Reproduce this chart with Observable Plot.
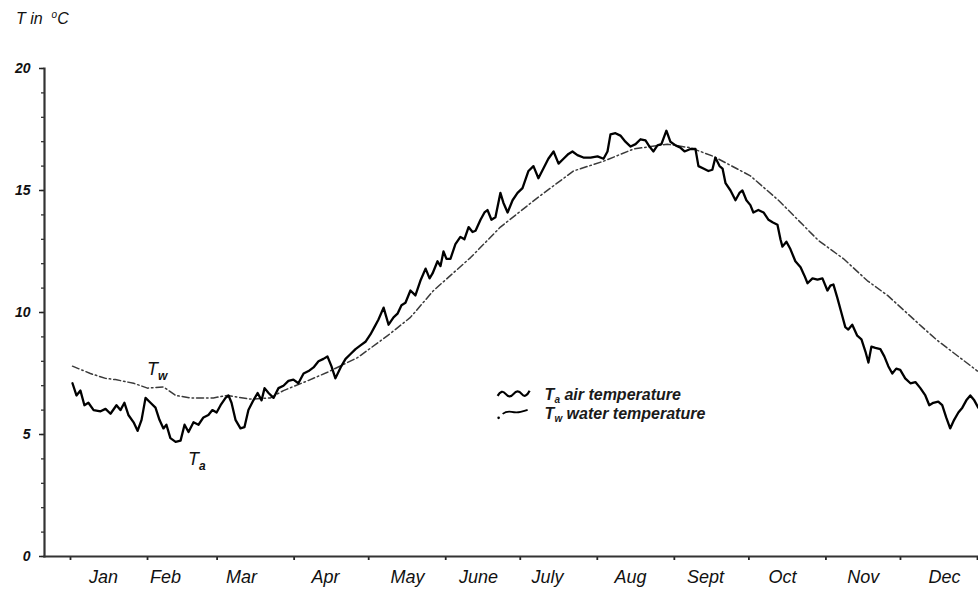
<!DOCTYPE html>
<html>
<head>
<meta charset="utf-8">
<script src="https://cdn.jsdelivr.net/npm/d3@7"></script>
<script src="https://cdn.jsdelivr.net/npm/@observablehq/plot@0.6"></script>
<style>
  body { margin: 0; background: #fff; font-family: "Liberation Sans", Arial, sans-serif; }
  #title { height: 35px; line-height: 30px; padding-left: 16px; font-style: italic; font-size: 16px; color: #111; }
  #title sup { font-size: 10px; }
</style>
</head>
<body>
<div id="title">T in &nbsp;<sup>o</sup>C</div>
<div id="chart"></div>
<script>
// ---- data ----
const monthStarts = [0,31,59,90,120,151,181,212,243,273,304,334,365];
const monthLabelDays = [13.3,38.2,68.8,102.6,135.6,164.2,192,225.4,255.5,286.5,319,351.7];
const monthLabels = ["Jan","Feb","Mar","Apr","May","June","July","Aug","Sept","Oct","Nov","Dec"];
const yMajorTicks = [0,5,10,15,20];
const yMinorTicks = d3.range(0, 21);

// air temperature Ta (day of year, °C)
const airDay = [0.8,2.4,4.0,5.6,7.2,9.3,12.1,14.1,16.1,18.5,20.1,21.7,23.3,25.4,27.0,28.6,30.2,32.2,34.2,35.8,37.4,38.6,40.2,42.3,44.3,45.9,47.5,49.5,51.5,53.5,55.5,57.1,58.8,60.4,62.4,63.6,64.8,66.4,68.4,70.0,71.6,73.6,75.3,76.9,78.1,79.7,81.7,83.7,85.7,87.7,89.7,91.7,93.8,95.8,97.8,99.8,101.8,103.4,105.0,106.6,108.7,110.7,112.7,114.7,116.7,118.7,120.7,122.3,123.9,126.0,128.0,130.0,131.6,133.2,134.8,136.8,138.8,140.8,142.9,144.5,145.7,147.7,148.9,150.1,151.3,152.9,154.9,156.9,158.5,160.2,161.8,163.0,165.0,166.6,167.8,169.4,171.0,173.0,174.2,175.9,177.9,179.9,181.9,184.3,186.3,188.3,190.3,192.3,194.4,196.4,198.4,200.4,202.0,204.0,206.4,209.3,212.1,214.5,216.1,217.3,219.3,221.3,223.3,225.4,227.4,229.4,231.4,233.0,234.6,236.2,237.8,239.8,241.4,243.5,245.5,247.1,249.5,251.5,252.7,254.7,256.7,258.3,259.5,261.2,262.4,263.6,265.6,267.6,269.2,270.4,272.0,273.6,274.8,276.8,278.9,280.9,282.5,284.5,285.7,286.5,288.1,289.7,291.7,293.8,295.4,296.6,298.6,300.6,302.6,304.6,305.8,307.0,308.6,310.2,311.8,313.0,314.6,316.6,318.3,319.9,321.1,322.3,323.9,325.9,327.5,329.1,330.7,332.3,333.9,335.9,338.0,340.0,342.0,344.0,345.6,347.2,349.2,350.8,352.4,354.0,355.6,357.3,358.9,360.5,362.1,363.7,365.3];
const airTemp = [7.1,6.6,6.8,6.2,6.3,6.0,5.95,6.05,5.85,6.2,6.0,6.3,5.8,5.5,5.15,5.6,6.5,6.3,6.1,5.6,5.25,5.4,4.85,4.7,4.75,5.4,5.1,5.5,5.4,5.7,5.8,6.0,5.9,6.2,6.5,6.6,6.3,5.6,5.25,5.3,6.0,6.4,6.7,6.4,6.9,6.7,6.5,6.9,7.0,7.2,7.25,7.1,7.5,7.6,7.75,8.0,8.1,8.2,7.8,7.3,7.75,8.1,8.3,8.5,8.65,8.8,9.1,9.4,9.7,10.2,9.5,9.8,9.95,10.3,10.4,10.9,10.7,11.3,11.8,11.4,11.6,12.1,11.9,12.5,12.2,12.2,12.8,13.1,13.0,13.5,13.3,13.35,13.8,14.1,14.2,13.8,13.9,14.9,14.5,14.1,14.6,14.9,15.1,15.8,16.0,15.5,15.9,16.3,16.6,16.1,16.3,16.5,16.6,16.45,16.35,16.35,16.4,16.3,16.6,17.3,17.35,17.25,17.0,16.8,16.9,17.1,17.05,16.8,16.6,16.85,16.9,17.45,17.0,16.85,16.75,16.6,16.7,16.7,16.0,15.9,15.8,15.85,16.35,16.0,15.9,15.3,15.0,14.6,14.9,15.0,14.6,14.4,14.1,14.2,14.1,13.8,13.7,13.6,13.0,12.7,12.9,12.6,12.1,11.85,11.5,11.2,11.4,11.35,11.4,10.9,11.1,11.15,10.6,10.0,9.4,9.3,9.5,9.05,8.9,8.4,7.95,8.6,8.55,8.5,8.2,7.8,7.5,7.7,7.65,7.3,7.1,7.15,6.9,6.6,6.2,6.3,6.35,6.2,5.7,5.25,5.6,5.9,6.1,6.4,6.6,6.4,6.1];

// water temperature Tw (day of year, °C)
const waterDay = [0.8,8.0,14.1,18.1,25.4,31.0,37.4,42.3,48.3,57.5,63.2,72.4,80.5,85.7,95.4,103.4,115.5,127.6,136.8,146.1,161.0,173.0,187.9,202.4,214.5,226.6,240.2,249.5,258.7,273.6,284.9,301.0,311.1,320.7,328.8,342.8,348.9,365.0];
const waterTemp = [7.8,7.5,7.3,7.25,7.1,6.9,6.95,6.6,6.5,6.5,6.6,6.45,6.5,6.8,7.2,7.55,8.15,9.05,9.8,10.9,12.25,13.5,14.7,15.8,16.2,16.7,16.9,16.75,16.4,15.6,14.6,12.95,12.2,11.3,10.7,9.4,8.85,7.6];

const air = airDay.map((d, i) => ({day: d, t: airTemp[i]}));
const water = waterDay.map((d, i) => ({day: d, t: waterTemp[i]}));

const font = "Liberation Sans, Arial, sans-serif";

const plot = Plot.plot({
  width: 978,
  height: 564,
  marginLeft: 44,
  marginRight: 0,
  marginTop: 33,
  marginBottom: 43,
  style: {fontFamily: font, background: "#fff", color: "#111", overflow: "visible"},
  x: {domain: [-10.46, 365.4]},
  y: {domain: [0, 20]},
  marks: [
    Plot.axisY(yMinorTicks, {tickSize: 3, tickFormat: () => "", label: null, stroke: "#222", strokeWidth: 1.2}),
    Plot.axisY(yMajorTicks, {tickSize: 5, tickPadding: 9, tickFormat: d3.format("d"), fontSize: 14, fontWeight: "bold", fontStyle: "italic", label: null, stroke: "#222", strokeWidth: 1.5}),
    Plot.axisX(monthStarts, {tickSize: 4, tickFormat: () => "", stroke: "#222", strokeWidth: 1.8, label: null}),
    Plot.axisX(monthLabelDays, {tickSize: 0, tickPadding: 14, tickFormat: d => monthLabels[monthLabelDays.indexOf(d)], fontSize: 18, fontStyle: "italic", label: null}),
    Plot.frame({anchor: "left", stroke: "#333", strokeWidth: 2.2}),
    Plot.frame({anchor: "bottom", stroke: "#333", strokeWidth: 2.2}),
    Plot.line(water, {x: "day", y: "t", stroke: "#3a3a3a", strokeWidth: 1.5, strokeDasharray: "7,3,1.5,3"}),
    Plot.line(air, {x: "day", y: "t", stroke: "#000", strokeWidth: 2.3, strokeLinejoin: "round"})
  ]
});

document.getElementById("chart").appendChild(plot);

// annotations (positioned through the plot's scales)
const sx = plot.scale("x"), sy = plot.scale("y");
const svg = d3.select(plot);
function subLabel(day, t, main, sub) {
  const g = svg.append("text")
    .attr("x", sx.apply(day)).attr("y", sy.apply(t))
    .attr("text-anchor", "start")
    .attr("font-family", font).attr("font-style", "italic")
    .attr("font-size", 18).attr("fill", "#111");
  g.append("tspan").text(main);
  g.append("tspan").attr("font-size", 12).attr("font-weight", "bold").attr("dy", 5).text(sub);
}
subLabel(31, 7.4, "T", "w");
subLabel(47.5, 3.75, "T", "a");

// legend
const legX = sx.apply(191), legY1 = sy.apply(6.4), legY2 = sy.apply(5.62);
const lg = svg.append("g");
lg.append("path")
  .attr("d", `M${legX-47},${legY1-4} q4,-7 8,-2 t8,0 t8,0 t8,-3`)
  .attr("fill", "none").attr("stroke", "#000").attr("stroke-width", 2.2);
lg.append("circle").attr("cx", legX-46).attr("cy", legY2-1).attr("r", 1.3).attr("fill", "#000");
lg.append("path")
  .attr("d", `M${legX-42},${legY2-5} q4,-3 9,-2 t9,0 t7,-2`)
  .attr("fill", "none").attr("stroke", "#000").attr("stroke-width", 1.8);
function legText(y, sub, rest) {
  const t = lg.append("text").attr("x", legX).attr("y", y)
    .attr("text-anchor", "start")
    .attr("font-family", font).attr("font-style", "italic").attr("font-weight", "bold")
    .attr("font-size", 16).attr("fill", "#1a1a1a");
  t.append("tspan").text("T");
  t.append("tspan").attr("font-size", 10).attr("dy", 3).text(sub);
  t.append("tspan").attr("dy", -3).text(" " + rest);
}
legText(legY1, "a", "air temperature");
legText(legY2, "w", "water temperature");
</script>
</body>
</html>
